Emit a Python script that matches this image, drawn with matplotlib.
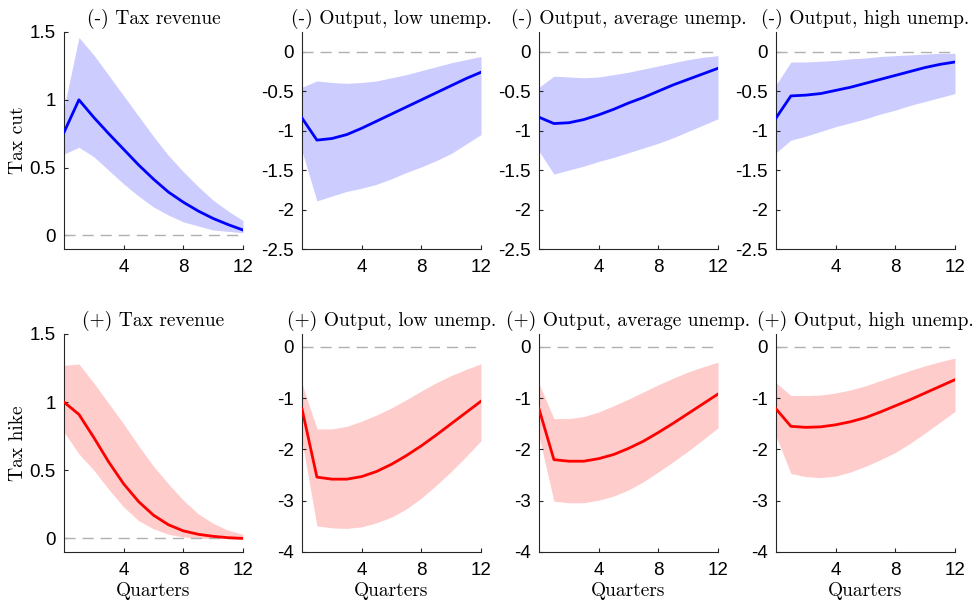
import numpy as np
import matplotlib
matplotlib.use("Agg")
import matplotlib.pyplot as plt
from matplotlib.ticker import FuncFormatter

plt.rcParams['axes.unicode_minus'] = False

quarters = np.arange(13)

# Tax cut (-) responses: point estimate and band
cut_rev = [0.76, 1.00, 0.87, 0.75, 0.635, 0.52, 0.415, 0.32, 0.245, 0.18, 0.125, 0.08, 0.04]
cut_rev_hi = [0.94, 1.46, 1.33, 1.18, 1.03, 0.88, 0.73, 0.59, 0.47, 0.36, 0.26, 0.18, 0.11]
cut_rev_lo = [0.60, 0.65, 0.58, 0.48, 0.38, 0.29, 0.21, 0.15, 0.10, 0.07, 0.04, 0.03, 0.02]

cut_low = [-0.84, -1.12, -1.10, -1.05, -0.97, -0.88, -0.79, -0.70, -0.61, -0.52, -0.43, -0.34, -0.26]
cut_low_hi = [-0.45, -0.37, -0.39, -0.40, -0.39, -0.37, -0.33, -0.29, -0.24, -0.19, -0.14, -0.10, -0.06]
cut_low_lo = [-1.26, -1.89, -1.83, -1.77, -1.73, -1.68, -1.61, -1.53, -1.46, -1.38, -1.29, -1.17, -1.05]

cut_avg = [-0.83, -0.91, -0.90, -0.86, -0.80, -0.73, -0.65, -0.58, -0.50, -0.42, -0.35, -0.28, -0.21]
cut_avg_hi = [-0.45, -0.31, -0.32, -0.33, -0.32, -0.29, -0.26, -0.22, -0.18, -0.14, -0.10, -0.07, -0.05]
cut_avg_lo = [-1.26, -1.55, -1.50, -1.45, -1.39, -1.34, -1.28, -1.22, -1.16, -1.09, -1.01, -0.93, -0.85]

cut_high = [-0.84, -0.56, -0.55, -0.53, -0.49, -0.45, -0.40, -0.35, -0.30, -0.25, -0.20, -0.16, -0.13]
cut_high_hi = [-0.42, -0.13, -0.13, -0.12, -0.11, -0.09, -0.08, -0.06, -0.05, -0.04, -0.03, -0.02, -0.02]
cut_high_lo = [-1.28, -1.12, -1.07, -1.01, -0.95, -0.90, -0.85, -0.79, -0.74, -0.68, -0.63, -0.58, -0.53]

# Tax hike (+) responses
hike_rev = [1.00, 0.91, 0.74, 0.56, 0.40, 0.27, 0.17, 0.10, 0.055, 0.03, 0.015, 0.005, 0.0]
hike_rev_hi = [1.27, 1.28, 1.14, 0.99, 0.84, 0.68, 0.53, 0.40, 0.28, 0.18, 0.11, 0.06, 0.03]
hike_rev_lo = [0.78, 0.62, 0.50, 0.36, 0.23, 0.13, 0.07, 0.03, 0.01, 0.0, 0.0, 0.0, -0.01]

hike_low = [-1.21, -2.54, -2.58, -2.58, -2.53, -2.43, -2.29, -2.12, -1.93, -1.72, -1.50, -1.28, -1.06]
hike_low_hi = [-0.72, -1.60, -1.60, -1.55, -1.45, -1.33, -1.19, -1.03, -0.86, -0.70, -0.56, -0.44, -0.33]
hike_low_lo = [-1.84, -3.49, -3.53, -3.54, -3.51, -3.43, -3.32, -3.16, -2.95, -2.70, -2.43, -2.14, -1.83]

hike_avg = [-1.21, -2.20, -2.23, -2.23, -2.18, -2.10, -1.98, -1.84, -1.67, -1.49, -1.30, -1.11, -0.92]
hike_avg_hi = [-0.72, -1.40, -1.40, -1.36, -1.27, -1.15, -1.02, -0.88, -0.74, -0.61, -0.49, -0.39, -0.30]
hike_avg_lo = [-1.74, -3.01, -3.04, -3.04, -2.99, -2.91, -2.79, -2.63, -2.44, -2.24, -2.03, -1.81, -1.58]

hike_high = [-1.21, -1.55, -1.57, -1.56, -1.52, -1.46, -1.38, -1.27, -1.15, -1.03, -0.90, -0.77, -0.64]
hike_high_hi = [-0.70, -0.95, -0.95, -0.94, -0.90, -0.84, -0.76, -0.66, -0.56, -0.46, -0.37, -0.29, -0.22]
hike_high_lo = [-1.74, -2.47, -2.53, -2.55, -2.52, -2.44, -2.33, -2.20, -2.06, -1.88, -1.68, -1.47, -1.26]

cut_titles = ["(-) Tax revenue", "(-) Output, low unemp.",
              "(-) Output, average unemp.", "(-) Output, high unemp."]
hike_titles = ["(+) Tax revenue", "(+) Output, low unemp.",
               "(+) Output, average unemp.", "(+) Output, high unemp."]

rows = [
    dict(title=cut_titles, label="Tax cut", line="#0000ff", band="#ccccff",
         series=[(cut_rev, cut_rev_lo, cut_rev_hi), (cut_low, cut_low_lo, cut_low_hi),
                 (cut_avg, cut_avg_lo, cut_avg_hi), (cut_high, cut_high_lo, cut_high_hi)],
         ylim_rev=(-0.1, 1.5), ylim_out=(-2.5, 0.25),
         yticks_out=[-2.5, -2, -1.5, -1, -0.5, 0]),
    dict(title=hike_titles, label="Tax hike", line="#ff0000", band="#ffcccc",
         series=[(hike_rev, hike_rev_lo, hike_rev_hi), (hike_low, hike_low_lo, hike_low_hi),
                 (hike_avg, hike_avg_lo, hike_avg_hi), (hike_high, hike_high_lo, hike_high_hi)],
         ylim_rev=(-0.1, 1.5), ylim_out=(-4, 0.25),
         yticks_out=[-4, -3, -2, -1, 0]),
]

W, H = 975, 605
fig = plt.figure(figsize=(W / 100, H / 100), dpi=100)

lefts = [64, 302, 539, 776]
width = 179
tops = [32, 334]
heights = [217, 218]

serif = "cmr10"
fmt = FuncFormatter(lambda v, p: "%g" % v)

for r, row in enumerate(rows):
    for c in range(4):
        ax = fig.add_axes([lefts[c] / W, 1 - (tops[r] + heights[r]) / H,
                           width / W, heights[r] / H])
        mid, lo, hi = row["series"][c]
        ax.fill_between(quarters, lo, hi, color=row["band"], lw=0, zorder=1)
        ax.axhline(0, color="#b0b0b0", lw=1.0, dashes=(8, 5), zorder=2)
        ax.plot(quarters, mid, color=row["line"], lw=2.0, zorder=3)

        ax.set_xlim(0, 12)
        ax.set_xticks([4, 8, 12])
        if c == 0:
            ax.set_ylim(*row["ylim_rev"])
            ax.set_yticks([0, 0.5, 1, 1.5])
        else:
            ax.set_ylim(*row["ylim_out"])
            ax.set_yticks(row["yticks_out"])
        ax.yaxis.set_major_formatter(fmt)

        for s in ["top", "right"]:
            ax.spines[s].set_visible(False)
        for s in ["left", "bottom"]:
            ax.spines[s].set_color("#262626")
            ax.spines[s].set_linewidth(0.8)
        ax.tick_params(direction="in", length=3, width=0.8, color="#262626",
                       labelsize=13.5, pad=6)
        ax.tick_params(axis="x", pad=7)
        for t in ax.get_xticklabels() + ax.get_yticklabels():
            t.set_fontfamily("Liberation Sans")

        ax.set_title(row["title"][c], fontfamily=serif, fontsize=14, pad=6)
        if r == 1:
            ax.set_xlabel("Quarters", fontfamily=serif, fontsize=14, labelpad=2)

    yc = tops[r] + heights[r] / 2
    fig.text(18 / W, 1 - yc / H, row["label"], rotation=90, ha="center",
             va="center", fontfamily=serif, fontsize=14)

fig.savefig("out.png", dpi=100)
